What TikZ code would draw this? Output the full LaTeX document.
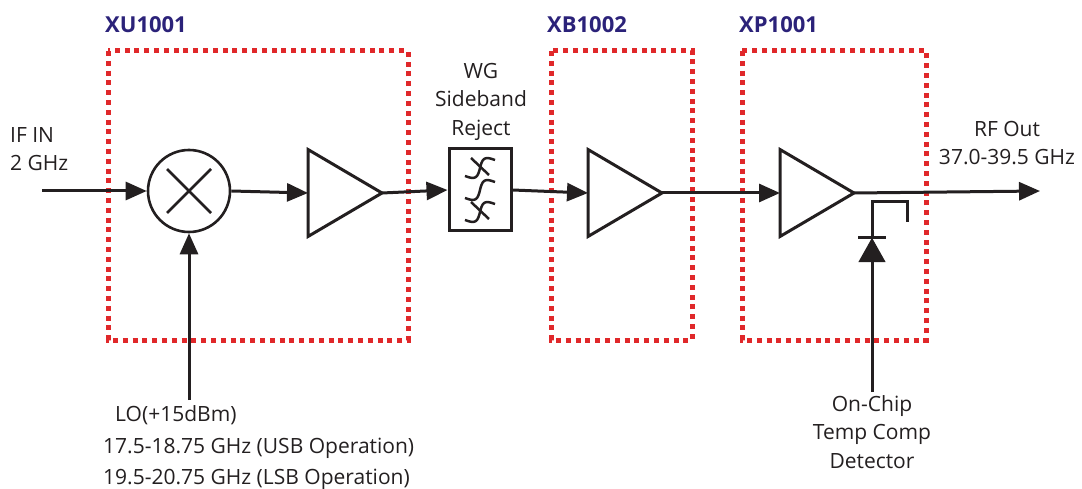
\documentclass[tikz,border=0pt]{standalone}
\usepackage{fontspec}
\setmainfont{Open Sans}
\usetikzlibrary{arrows.meta}
\definecolor{ink}{HTML}{231F20}
\definecolor{navy}{HTML}{2B2279}
\definecolor{dotred}{HTML}{E0282A}
\tikzset{
  wire/.style={line width=3pt, draw=ink},
  arr/.style={wire, -{Triangle[length=21pt,width=18pt]}},
  chipbox/.style={draw=dotred, line width=5pt, dash pattern=on 5pt off 4.8pt},
  chiplabel/.style={anchor=south west, inner sep=0pt, text=navy, font=\bfseries\fontsize{22}{26}\selectfont},
  lbl/.style={text=ink, font=\fontsize{21}{28.5}\selectfont, inner sep=0pt, align=center},
  lolbl/.style={text=ink, font=\fontsize{21}{31}\selectfont, inner sep=0pt, align=left},
  ampbox/.style={minimum width=74pt, minimum height=87pt, inner sep=0pt, outer sep=0pt},
  squig/.style={draw=ink, line width=2.5pt},
}
\begin{document}
\begin{tikzpicture}[x=1pt,y=-1pt]
\useasboundingbox (0,0) rectangle (1082,489);
% chip outlines
\draw[chipbox] (108,51) rectangle (408,340);
\draw[chipbox] (551,51) rectangle (692,340);
\draw[chipbox] (742,51) rectangle (926,340);
\node[chiplabel] (lxu) at (105,33) {XU1001};
\node[chiplabel] (lxb) at (547,33) {XB1002};
\node[chiplabel] (lxp) at (739,33) {XP1001};
% mixer
\node[circle, draw=ink, line width=2.6pt, minimum size=82pt, inner sep=0pt] (mix) at (189,191) {};
\draw[wire, line width=2.6pt] ([shift={(-22,-22)}]mix.center) -- ([shift={(22,22)}]mix.center);
\draw[wire, line width=2.6pt] ([shift={(-22,22)}]mix.center) -- ([shift={(22,-22)}]mix.center);
% amplifiers
\node[ampbox] (a1) at (345,193) {};
\node[ampbox] (a2) at (625,193) {};
\node[ampbox] (a3) at (817,193) {};
\foreach \a in {a1,a2,a3}{
  \draw[wire, line join=miter] (\a.north west) -- (\a.east) -- (\a.south west) -- cycle;
}
% filter
\node[draw=ink, line width=3pt, minimum width=62pt, minimum height=82pt, inner sep=0pt] (flt) at (480,190) {};
\foreach \yy/\cr in {168/1,190/0,212/1}{
  \draw[squig, smooth] plot[domain=-17:17, samples=35]
    ({480 + \x*cos(28) - 6*sin(10.6*\x)*sin(28)}, {\yy - (\x*sin(28) + 6*sin(10.6*\x)*cos(28))});
  \ifnum\cr=1
    \draw[squig] (480-9,\yy-10) -- (480+9,\yy+7);
  \fi
}
% connectors
\coordinate (ifin) at (42,191);
\coordinate (rfout) at (1040,191);
\coordinate (lo) at (189,400);
\draw[arr] (ifin) -- (mix.west);
\draw[arr] (mix.east) -- (a1.west);
\draw[arr] (a1.east) -- (flt.west);
\draw[arr] (flt.east) -- (a2.west);
\draw[arr] (a2.east) -- (a3.west);
\draw[arr] (a3.east) -- (rfout);
\draw[arr] (lo) -- (mix.south);
% detector
\coordinate (dtop) at (872,202);
\coordinate (dbot) at (872,392);
\node[minimum width=27pt, minimum height=24pt, inner sep=0pt] (diode) at (872,250) {};
\fill[ink] (diode.north) -- (diode.south east) -- (diode.south west) -- cycle;
\draw[wire] (diode.north west) -- (diode.north east);
\draw[wire] (dbot) -- (diode.south);
\draw[wire, line join=miter] (diode.north) -- (dtop) -| (907,222);
% labels
\node[lbl, align=left, anchor=north west] (tif) at (10,127) {IF IN\\2 GHz};
\node[lbl, anchor=north] (twg) at (481,63) {WG\\Sideband\\Reject};
\node[lbl, anchor=north] (trf) at (1007,121) {RF Out\\37.0-39.5 GHz};
\node[lbl, anchor=north] (tdet) at (872,395) {On-Chip\\Temp Comp\\Detector};
\node[lolbl, anchor=north west] (tlo1) at (115,405) {LO(+15dBm)};
\node[lolbl, anchor=north west] (tlo2) at (103,438) {17.5-18.75 GHz (USB Operation)\\19.5-20.75 GHz (LSB Operation)};
\end{tikzpicture}
\end{document}
